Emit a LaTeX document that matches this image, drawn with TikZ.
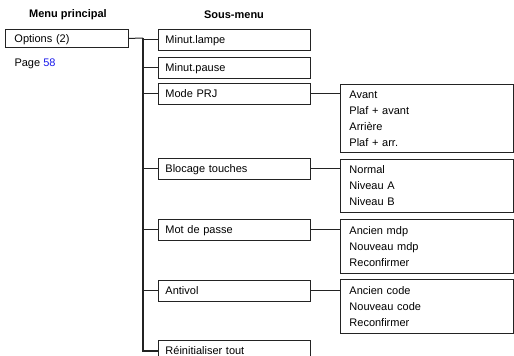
\documentclass[tikz,border=0pt]{standalone}
\usepackage{fontspec}
\setmainfont{Liberation Sans}
\usepackage{tikz}
\definecolor{lineGray}{RGB}{35, 35, 35}
\definecolor{pageBlue}{RGB}{25, 25, 235}
\newcommand{\mstrut}{\rule[-3pt]{0pt}{14pt}}

\tikzset{
  menubox/.style={draw=lineGray, line width=0.9pt, anchor=north west, inner ysep=0pt,
    align=left, font=\fontsize{11}{16}\selectfont},
  mainbox/.style={menubox, text width=105pt, inner xsep=9pt, minimum height=18pt},
  subbox/.style={menubox, text width=138pt, inner xsep=7pt, minimum height=21pt},
  optbox/.style={menubox, text width=155pt, inner xsep=9pt},
  trunk/.style={lineGray, line width=1.6pt},
  branch/.style={lineGray, line width=1pt},
  header/.style={font=\fontsize{11}{13}\selectfont\bfseries}
}

\begin{document}
\begin{tikzpicture}[x=1pt, y=-1pt]
      \useasboundingbox (0,0) rectangle (514,356);
      \clip (0,0) rectangle (514,356);

      % Column titles
      \node[header] (head1) at (68,15) {Menu principal};
      \node[header] (head2) at (234,15) {Sous-menu};

      % Main menu
      \node[mainbox] (opt) at (5,29) {\mstrut Options (2)};
      \node[anchor=base west, font=\fontsize{11}{13}\selectfont] (page) at (11,66.5)
        {Page \textcolor{pageBlue}{58}};

      % Sub-menu boxes
      \node[subbox] (lampe) at (158,28.5) {\mstrut Minut.lampe};
      \node[subbox] (pause) at (158,56.5) {\mstrut Minut.pause};
      \node[subbox] (mode) at (158,82.5) {\mstrut Mode PRJ};
      \node[subbox] (lock) at (158,158) {\mstrut Blocage touches};
      \node[subbox] (pass) at (158,219) {\mstrut Mot de passe};
      \node[subbox] (theft) at (158,280) {\mstrut Antivol};
      \node[subbox] (reset) at (158,340) {\mstrut R\'einitialiser tout};

      % Option lists
      \node[optbox, minimum height=68pt] (modeopt) at (340,84)
        {\mstrut Avant\\ \mstrut Plaf + avant\\ \mstrut Arri\`ere\\ \mstrut Plaf + arr.};
      \node[optbox, minimum height=53pt] (lockopt) at (340,159)
        {\mstrut Normal\\ \mstrut Niveau A\\ \mstrut Niveau B};
      \node[optbox, minimum height=54pt] (passopt) at (340,219)
        {\mstrut Ancien mdp\\ \mstrut Nouveau mdp\\ \mstrut Reconfirmer};
      \node[optbox, minimum height=54pt] (theftopt) at (340,279)
        {\mstrut Ancien code\\ \mstrut Nouveau code\\ \mstrut Reconfirmer};

      % Trunk from the main menu down to the last entry
      \coordinate (top) at (143,38);
      \draw[branch] (opt.east) -- (top);
      \draw[trunk] (top) |- (reset.west);

      % Branches to the sub-menu boxes
      \draw[branch] (lampe.west -| top) -- (lampe.west);
      \draw[branch] (pause.west -| top) -- (pause.west);
      \draw[branch] (mode.west -| top) -- (mode.west);
      \draw[branch] (lock.west -| top) -- (lock.west);
      \draw[branch] (pass.west -| top) -- (pass.west);
      \draw[branch] (theft.west -| top) -- (theft.west);

      % Links to the option lists
      \draw[branch] (mode.east) -- (mode.east -| modeopt.west);
      \draw[branch] (lock.east) -- (lock.east -| lockopt.west);
      \draw[branch] (pass.east) -- (pass.east -| passopt.west);
      \draw[branch] (theft.east) -- (theft.east -| theftopt.west);
    \end{tikzpicture}
\end{document}
